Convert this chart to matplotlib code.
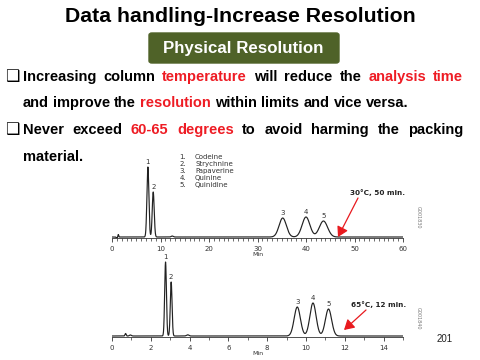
import numpy as np
import matplotlib
matplotlib.use("Agg")
import matplotlib.pyplot as plt
from matplotlib.patches import FancyBboxPatch

# ---------------- data ----------------
title = "Data handling-Increase Resolution"
subtitle = "Physical Resolution"
compounds = ["Codeine", "Strychnine", "Papaverine", "Quinine", "Quinidine"]
peak_labels = ["1", "2", "3", "4", "5"]

top_times = [7.4, 8.5, 35.2, 40.0, 43.6]
top_heights = [70, 45, 19, 20, 16]
top_sigmas = [0.2, 0.2, 0.75, 0.8, 0.85]
top_noise_times = [1.0, 1.3, 12.4]
top_noise_heights = [-1.5, 2.5, 1.0]
top_noise_sigmas = [0.1, 0.08, 0.2]
top_xticks = [0, 10, 20, 30, 40, 50, 60]
top_note = "30°C, 50 min."
top_code = "G001830"

bot_times = [2.76, 3.05, 9.55, 10.36, 11.16]
bot_heights = [74, 54, 29, 33, 27]
bot_sigmas = [0.045, 0.045, 0.16, 0.16, 0.16]
bot_noise_times = [0.7, 0.95, 3.9]
bot_noise_heights = [2.5, 1.0, 1.2]
bot_noise_sigmas = [0.03, 0.05, 0.06]
bot_xticks = [0, 2, 4, 6, 8, 10, 12, 14]
bot_note = "65°C, 12 min."
bot_code = "G001840"

page_number = "201"

bullet_lines = [
    ([("Increasing", "k"), ("column", "k"), ("temperature", "r"), ("will", "k"),
      ("reduce", "k"), ("the", "k"), ("analysis", "r"), ("time", "r")], True),
    ([("and", "k"), ("improve", "k"), ("the", "k"), ("resolution", "r"), ("within", "k"),
      ("limits", "k"), ("and", "k"), ("vice", "k"), ("versa.", "k")], False),
    ([("Never", "k"), ("exceed", "k"), ("60-65", "r"), ("degrees", "r"), ("to", "k"),
      ("avoid", "k"), ("harming", "k"), ("the", "k"), ("packing", "k")], True),
    ([("material.", "k")], False),
]
bullet_flags = [True, False, True, False]

# ---------------- layout helpers ----------------
W, H = 480, 360
fig = plt.figure(figsize=(4.8, 3.6), dpi=100)
fig.patch.set_facecolor("white")

def fx(x):
    return x / W

def fy(y):
    return 1 - y / H

RED = "#ee1c24"
GREEN = "#4f6228"

fig.text(fx(240), fy(17), title, ha="center", va="center", fontsize=15.3,
         fontweight="bold", family="Liberation Sans", color="black")

box = FancyBboxPatch((fx(149), fy(63)), fx(190), 30 / H,
                     boxstyle="round,pad=0,rounding_size=0.006",
                     transform=fig.transFigure, facecolor=GREEN, edgecolor=GREEN)
fig.patches.append(box)
fig.text(fx(243), fy(49), subtitle, ha="center", va="center", fontsize=12.2,
         fontweight="bold", family="Liberation Sans", color="white")

renderer = fig.canvas.get_renderer()
FS = 10.5
line_ys = [77, 103, 130, 157]
x_left, x_right = 23, 463

def word_width(s):
    t = fig.text(0, 0, s, fontsize=FS, fontweight="bold", family="Liberation Sans")
    w = t.get_window_extent(renderer).width
    t.remove()
    return w

space_w = word_width("a a") - word_width("aa")
for (words, justify), y, bul in zip(bullet_lines, line_ys, bullet_flags):
    widths = [word_width(w) for w, c in words]
    if justify and len(words) > 1:
        gap = (x_right - x_left - sum(widths)) / (len(words) - 1)
    else:
        gap = space_w
    x = x_left
    for (w, c), ww in zip(words, widths):
        fig.text(fx(x), fy(y), w, ha="left", va="center", fontsize=FS,
                 fontweight="bold", family="Liberation Sans",
                 color=RED if c == "r" else "black")
        x += ww + gap
    if bul:
        fig.text(fx(5.5), fy(y - 0.5), "\u2751", ha="left", va="center", fontsize=11.5,
                 family="DejaVu Sans", color="black")

# ---------------- chromatograms ----------------
def trace(t, times, heights, sigmas, ntimes, nheights, nsigmas):
    y = np.zeros_like(t)
    for c, h, s in zip(list(times) + list(ntimes), list(heights) + list(nheights),
                       list(sigmas) + list(nsigmas)):
        y += h * np.exp(-0.5 * ((t - c) / s) ** 2)
    return y

def chrom(top_px, bot_px, xmax, xticks, minor_step, times, heights, sigmas,
          nt, nh, ns, ytop):
    ax = fig.add_axes([fx(112), fy(bot_px), fx(403) - fx(112), (bot_px - top_px) / H])
    t = np.linspace(0, xmax, 6000)
    ax.plot(t, trace(t, times, heights, sigmas, nt, nh, ns), color="#222222", lw=0.85)
    ax.set_xlim(0, xmax)
    ax.set_ylim(-1, ytop)
    for s in ["left", "right", "top"]:
        ax.spines[s].set_visible(False)
    ax.spines["bottom"].set_linewidth(0.6)
    ax.spines["bottom"].set_color("#333333")
    ax.set_yticks([])
    ax.set_xticks(xticks)
    ax.set_xticks(np.arange(0, xmax + 0.001, minor_step), minor=True)
    ax.tick_params(axis="x", which="major", length=3, width=0.6, labelsize=5,
                   colors="#333333", pad=2.5)
    ax.tick_params(axis="x", which="minor", length=1.8, width=0.5, colors="#333333")
    ax.set_xlabel("Min", fontsize=4.5, labelpad=0.5, color="#333333")
    ax.patch.set_alpha(0)
    for lab, tt, hh in zip(peak_labels, times, heights):
        ax.annotate(lab, (tt, hh), xytext=(0, 1.2), textcoords="offset points",
                    ha="center", va="bottom", fontsize=5, color="#333333")
    return ax

ax1 = chrom(160, 238, 60, top_xticks, 1, top_times, top_heights, top_sigmas,
            top_noise_times, top_noise_heights, top_noise_sigmas, 77)
ax2 = chrom(255, 337, 15, bot_xticks, 1, bot_times, bot_heights, bot_sigmas,
            bot_noise_times, bot_noise_heights, bot_noise_sigmas, 81)

# compound legend
for i, name in enumerate(compounds):
    y = 157 + 7 * i
    fig.text(fx(186), fy(y), f"{i + 1}.", ha="right", va="center", fontsize=5,
             color="#333333")
    fig.text(fx(195), fy(y), name, ha="left", va="center", fontsize=5, color="#333333")

# condition notes with arrows
fig.text(fx(350), fy(193), top_note, ha="left", va="center", fontsize=5.2,
         fontweight="bold", color="#222222")
fig.text(fx(351), fy(305), bot_note, ha="left", va="center", fontsize=5.2,
         fontweight="bold", color="#222222")
for (x0, y0, x1, y1) in [(358, 198, 338, 237), (366, 310, 344, 330)]:
    fig.patches.append(matplotlib.patches.FancyArrowPatch(
        (fx(x0), fy(y0)), (fx(x1), fy(y1)), transform=fig.transFigure,
        arrowstyle="-|>,head_length=6,head_width=3.5", color="#e8191e", lw=0.9,
        mutation_scale=1, shrinkA=0, shrinkB=0))

fig.text(fx(418), fy(217), top_code, ha="center", va="center", fontsize=3.5,
         rotation=270, color="#777777")
fig.text(fx(418), fy(318), bot_code, ha="center", va="center", fontsize=3.5,
         rotation=270, color="#777777")
fig.text(fx(445), fy(339), page_number, ha="center", va="center", fontsize=7,
         color="#222222", family="Liberation Sans")

fig.savefig("out.png", dpi=100, facecolor="white")
